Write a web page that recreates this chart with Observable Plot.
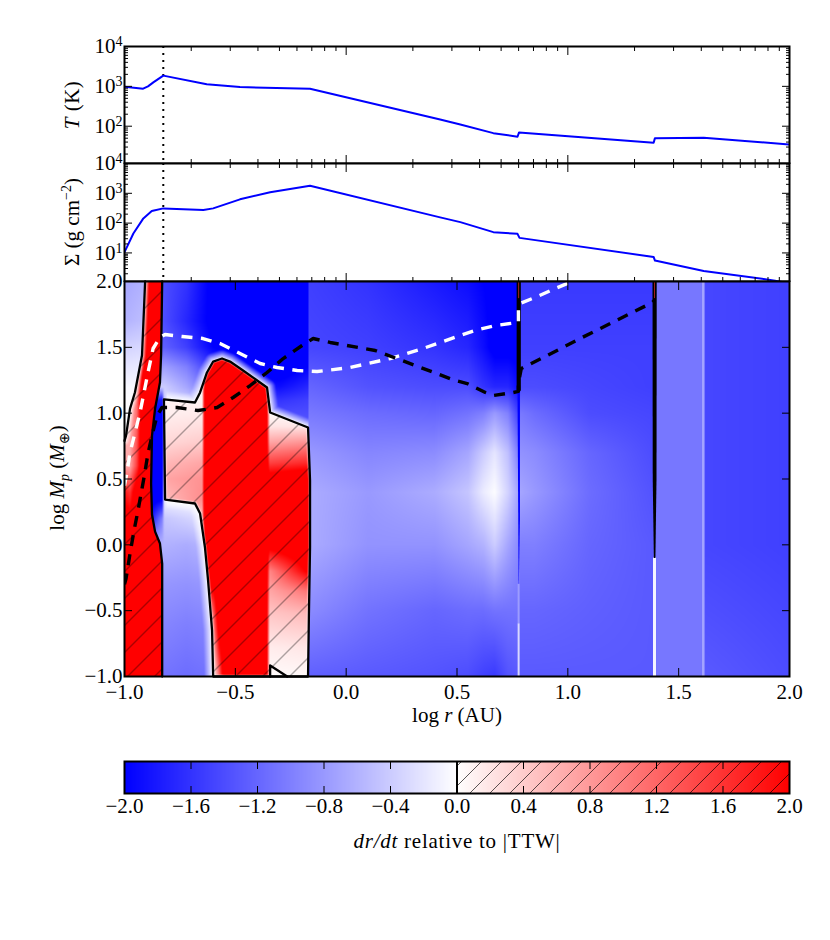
<!DOCTYPE html>
<html><head><meta charset="utf-8">
<style>
html,body{margin:0;padding:0;background:#fff}
#fig{position:relative;width:830px;height:940px;overflow:hidden;font-family:"Liberation Serif",serif;color:#000}
#fig svg{position:absolute;left:0;background:transparent;max-width:none}
#fig svg text{font-family:"Liberation Serif",serif !important;font-size:21px}
.lab{position:absolute;font-size:21px;white-space:nowrap;line-height:1;transform:translate(-50%,-50%)}
.rot{transform:translate(-50%,-50%) rotate(-90deg)}
.lab sub,.lab sup{font-size:14px;line-height:0}
</style>
<script src="https://cdn.jsdelivr.net/npm/d3@7"></script>
<script src="https://cdn.jsdelivr.net/npm/@observablehq/plot@0.6"></script>
</head><body><div id="fig"></div>
<script>
// ---- temperature and surface-density profiles
const tempLogR = [-1,-0.916,-0.894,-0.87,-0.825,-0.629,-0.479,-0.163,0.424,0.515,0.664,0.773,0.78,1.387,1.393,1.613,2];
const tempK    = [971,875,1000,1260,1858,1123,960,875,148,111,67,54.5,69.8,38.5,50.2,51.4,34.9];
const sigmaLogR = [-1,-0.96,-0.915,-0.877,-0.825,-0.644,-0.6,-0.479,-0.343,-0.163,0.424,0.515,0.664,0.773,0.782,1.387,1.393,1.613,1.928,2];
const sigmaCgs  = [10.6,45,144,254,312,274,312,628,1081,1803,156,108,49.8,43.7,32,7.33,5.55,2.48,1.2,0.95];
const dotLogR = -0.825;
// ---- dashed curves of the main panel
const whiteLogR = [-1,-0.989,-0.975,-0.93,-0.894,-0.871,-0.84,-0.817,-0.74,-0.646,-0.569,-0.479,-0.388,-0.312,-0.221,-0.131,0.018,0.199,0.334,0.515,0.582,0.673,0.777,0.777,0.785,0.862,0.953,1.02];
const whiteLogM = [0.45,0.549,0.701,1.005,1.309,1.491,1.575,1.597,1.582,1.567,1.529,1.453,1.377,1.347,1.324,1.316,1.347,1.415,1.484,1.59,1.628,1.666,1.689,1.795,1.833,1.886,1.954,2];
const blackLogR = [-1,-0.993,-0.975,-0.957,-0.939,-0.921,-0.912,-0.894,-0.876,-0.853,-0.831,-0.763,-0.668,-0.582,-0.51,-0.433,-0.357,-0.284,-0.199,-0.149,-0.072,0.131,0.312,0.492,0.546,0.628,0.664,0.754,0.777,0.777,0.79,0.907,1.065,1.237,1.381,1.39];
const blackLogM = [-0.3,-0.256,-0.066,0.109,0.261,0.428,0.511,0.694,0.83,0.982,1.043,1.043,1.02,1.043,1.119,1.21,1.309,1.415,1.514,1.567,1.537,1.476,1.362,1.248,1.225,1.157,1.134,1.157,1.165,1.225,1.339,1.438,1.575,1.719,1.84,1.856];
// ---- zero contours
const stripR = [-1,-0.993,-0.975,-0.953,-0.921,-0.912,-0.907,-0.83,-0.835,-0.84,-0.862,-0.876,-0.88,-0.876,-0.862,-0.84,-0.83,-0.83,-0.83,-1,-1];
const stripM = [0.79,0.83,1.035,1.157,1.44,1.795,2,2,1.44,1.233,1.035,0.83,0.466,0.23,0.1,0.01,-0.142,-0.52,-1,-1,0.79];
const loopR = [-0.822,-0.682,-0.659,-0.628,-0.6,-0.56,-0.524,-0.465,-0.357,-0.343,-0.172,-0.163,-0.163,-0.168,-0.172,-0.6,-0.605,-0.623,-0.637,-0.659,-0.682,-0.817,-0.822];
const loopM = [1.104,1.081,1.157,1.309,1.392,1.415,1.392,1.324,1.195,1.005,0.891,0.49,-0.02,-0.52,-1,-1,-0.65,-0.27,-0.02,0.238,0.314,0.344,1.104];
const cornerR = [-0.343,-0.343,-0.266];
const cornerM = [-1,-0.916,-1];
const slitAR = [0.769,0.788,0.788,0.769,0.769];
const slitAM = [2,2,1.17,1.17,2];
const slitBR = [1.382,1.401,1.4,1.395,1.388,1.383,1.382];
const slitBM = [2,2,0.5,-0.1,-0.1,0.5,2];
const blueSlitR = [0.773,0.784,0.784,0.779,0.778,0.773];
const blueSlitM = [1.2,1.2,0.2,-0.3,-0.3,1.2];
// ---- dr/dt inside the red strip
const rsX = [-1,-0.975,-0.945,-0.92,-0.83];
const rsY = [2,1.2,0.9,0.6,0.4,0.1,-1];
const rsV = [
 [2.5,2.5,2.5,2.5,2.5],[0.5,0.5,1,2.5,2.5],[0.6,0.6,1.2,2.5,2.5],[0.7,0.7,1.5,2.5,2.5],
 [1.8,1.6,2.5,2.5,2.5],[2.5,2.5,2.5,2.5,2.5],[2.5,2.5,2.5,2.5,2.5]];
// ---- dr/dt inside the big hatched loop
const loX = [-0.822,-0.65,-0.637,-0.6,-0.575,-0.55,-0.36,-0.345,-0.17];
const loY = [1.45,1.1,1,0.9,0.78,0.62,0.5,0.344,-0.02,-0.2,-0.35,-0.52,-0.78,-1];
const loV = [
 [0.1,0.1,2.5,2.5,2.5,2.5,2.5,0.05,0.05],
 [0.1,0.1,2.5,2.5,2.5,2.5,2.5,0.05,0.05],
 [0.12,0.15,2.5,2.5,2.5,2.5,2.5,0.05,0.05],
 [0.2,0.25,2.5,2.5,2.5,2.5,2.5,0.2,0.2],
 [0.3,0.4,2.5,2.5,2.5,2.5,2.5,0.7,0.85],
 [0.55,0.7,2.5,2.5,2.5,2.5,2.5,1.5,1.7],
 [0.7,0.85,2.5,2.5,2.5,2.5,2.5,2.3,2.5],
 [0.5,0.9,2.5,2.5,2.5,2.5,2.5,2.5,2.5],
 [0,0,2.5,2.5,2.5,2.5,2.5,2.1,2.5],
 [0,0,2.5,2.5,2.5,2.5,2.5,0.95,2.1],
 [0,0,2,2,2.5,2.5,2.5,0.7,1.1],
 [0,0,1.2,1.2,2.5,2.5,2.5,0.45,0.55],
 [0,0,0.5,0.5,1.8,2.5,2.5,0.15,0.2],
 [0,0,0,0,1,2.5,2.5,0.03,0.05]];
// ---- dr/dt left of log r = -0.17 outside the contours
const neX = [-1,-0.91,-0.89,-0.83,-0.82,-0.72,-0.6,-0.45,-0.3,-0.172];
const neY = [2,1.7,1.5,1.35,1.2,1.1,0.9,0.6,0.34,0.2,0,-0.3,-0.6,-1];
const neV = [
 [-0.7,-0.6,-0.6,-1.4,-1.4,-1.6,-2.1,-2.2,-2.2,-2.2],
 [-0.6,-0.5,-0.5,-1.4,-1.4,-1.7,-2.1,-2.2,-2.2,-2.2],
 [-0.35,-0.3,-0.3,-1.3,-1.25,-1.5,-2,-2.2,-2.2,-2.2],
 [-0.2,-0.15,-0.15,-0.8,-0.75,-1,-1.6,-2.1,-2.2,-2],
 [-0.05,-0.05,-0.05,-0.4,-0.4,-0.7,-1.2,-1.8,-1.9,-1.7],
 [-0.02,-0.02,-1.8,-1.8,-0.3,-0.4,-0.8,-1.3,-1.6,-1.5],
 [-0.02,-0.02,-2.2,-2.2,-0.5,-0.5,-0.8,-1,-1.2,-1.3],
 [0,0,-2.2,-2.2,-0.5,-0.5,-0.5,-0.5,-0.5,-0.5],
 [0,0,-2.2,-2,-0.1,-0.05,-0.05,-0.05,-0.05,-0.05],
 [0,0,-2,-1,-0.45,-0.35,-0.2,-0.2,-0.2,-0.2],
 [0,0,-0.6,-0.6,-0.6,-0.65,-0.55,-0.55,-0.55,-0.55],
 [0,0,-0.8,-0.8,-0.82,-0.85,-0.8,-0.8,-0.8,-0.8],
 [0,0,-0.95,-0.95,-0.95,-1,-0.95,-0.95,-0.95,-0.95],
 [0,0,-1.1,-1.1,-1.1,-1.15,-1.1,-1.1,-1.1,-1.1]];
// ---- dr/dt right of log r = -0.17
const riX = [-0.175,0.1,0.4,0.55,0.62,0.67,0.73,0.775,0.785,0.85,1.1,1.385,1.4,1.605,1.62,2];
const riY = [2,1.5,1.2,1,0.7,0.4,0,-0.5,-1];
const riV = [
 [-1.5,-1.6,-1.8,-1.9,-2,-2.1,-2.1,-2.1,-1.55,-1.55,-1.55,-1.55,-1.07,-1.07,-1.45,-1.5],
 [-1.45,-1.5,-1.6,-1.7,-1.9,-2.1,-2.1,-2.1,-1.5,-1.5,-1.5,-1.5,-1.07,-1.07,-1.45,-1.5],
 [-1.2,-1.35,-1.4,-1.4,-1.6,-1.7,-1.7,-1.9,-1.4,-1.4,-1.45,-1.5,-1.07,-1.07,-1.45,-1.5],
 [-1.05,-1.15,-1.2,-1.1,-1,-0.8,-1,-1.5,-1.05,-1.15,-1.4,-1.45,-1.07,-1.07,-1.45,-1.5],
 [-0.8,-0.95,-0.9,-0.7,-0.4,-0.2,-0.5,-1,-0.85,-0.9,-1.2,-1.4,-1.07,-1.07,-1.45,-1.5],
 [-0.65,-0.8,-0.65,-0.45,-0.15,-0.02,-0.35,-0.7,-0.7,-0.8,-1.15,-1.35,-1.07,-1.07,-1.45,-1.5],
 [-0.65,-0.85,-0.85,-0.7,-0.6,-0.4,-0.7,-0.9,-1,-1,-1.2,-1.3,-1.07,-1.07,-1.45,-1.5],
 [-0.9,-1.1,-1.2,-1.15,-1.15,-1.1,-1.1,-1.1,-1.2,-1.2,-1.25,-1.3,-1.07,-1.07,-1.38,-1.45],
 [-1.25,-1.3,-1.35,-1.4,-1.5,-1.55,-1.35,-1.3,-1.3,-1.3,-1.3,-1.3,-1.07,-1.07,-1.3,-1.4]];
// ---- axis ticks
const mainTicks = [-1,-0.5,0,0.5,1,1.5,2];
const rMajor = [-1,0,1,2];
const rMinor = [-0.699,-0.523,-0.398,-0.301,-0.222,-0.155,-0.097,-0.046,0.301,0.477,0.602,0.699,0.778,0.845,0.903,0.954,1.301,1.477,1.602,1.699,1.778,1.845,1.903,1.954];
const tempLabels = [100,1000,10000];
const sigmaLabels = [10,100,1000,10000];
const logMinor = [20,30,40,50,60,70,80,90,200,300,400,500,600,700,800,900,2000,3000,4000,5000,6000,7000,8000,9000];
const sigmaMinor = [2,3,4,5,6,7,8,9].concat(logMinor);
const barTicks = [-2,-1.6,-1.2,-0.8,-0.4,0,0.4,0.8,1.2,1.6,2];

const FONT = "Liberation Serif", FS = 21, L = 124, R = 41, MT = 18;
const W = 830 - L - R, H = 395;
const fig = document.getElementById("fig");
const minus = d => d.toFixed(1).replace("-", "−");
const pow10 = d => "10^" + Math.round(Math.log10(d));
const hatchDefs = (id, p) => `<pattern id="${id}" patternUnits="userSpaceOnUse" width="${p}" height="${p}"><path d="M-1 1L1 -1M0 ${p}L${p} 0M${p - 1} ${p + 1}L${p + 1} ${p - 1}" stroke="#000" stroke-width="0.65" fill="none"/></pattern>`;

function xy(X, Y) { return X.map((x, i) => ({x, y: Y[i]})); }
function grid(xs, ys, t, x, y) {
  let i = 0; while (i < xs.length - 2 && x > xs[i + 1]) i++;
  let j = 0; while (j < ys.length - 2 && y < ys[j + 1]) j++;
  const a = Math.max(0, Math.min(1, (x - xs[i]) / (xs[i + 1] - xs[i])));
  const b = Math.max(0, Math.min(1, (y - ys[j]) / (ys[j + 1] - ys[j])));
  const p = t[j][i] * (1 - a) + t[j][i + 1] * a;
  const q = t[j + 1][i] * (1 - a) + t[j + 1][i + 1] * a;
  return p * (1 - b) + q * b;
}
function inside(X, Y, x, y) {
  let c = false;
  for (let i = 0, j = X.length - 1; i < X.length; j = i++)
    if ((Y[i] > y) !== (Y[j] > y) && x < (X[j] - X[i]) * (y - Y[i]) / (Y[j] - Y[i]) + X[i]) c = !c;
  return c;
}
function edgeDist(X, Y, x, y) {        // distance to a contour, in screen pixels
  const kx = W / 3, ky = H / 3; let m = Infinity;
  for (let i = 1; i < X.length; i++) {
    const ax = X[i - 1] * kx, ay = Y[i - 1] * ky, bx = X[i] * kx - ax, by = Y[i] * ky - ay;
    const px = x * kx - ax, py = y * ky - ay;
    const s = Math.max(0, Math.min(1, (px * bx + py * by) / (bx * bx + by * by || 1)));
    const dx = px - s * bx, dy = py - s * by; m = Math.min(m, dx * dx + dy * dy);
  }
  return Math.sqrt(m);
}
const stripLeftR = stripR.slice(0, 7), stripLeftM = stripM.slice(0, 7);
function field(x, y) {
  if (inside(loopR, loopM, x, y)) {
    const v = grid(loX, loY, loV, x, y);
    return v * Math.min(1, edgeDist(loopR, loopM, x, y) / 2.5);
  }
  if (inside(stripR, stripM, x, y)) {
    const v = grid(rsX, rsY, rsV, x, y);
    return v * Math.min(1, edgeDist(stripLeftR, stripLeftM, x, y) / 5);
  }
  if (x > -0.172) return grid(riX, riY, riV, x, y);
  const v = grid(neX, neY, neV, x, y);
  if (x > -0.81) return v * Math.min(1, edgeDist(loopR, loopM, x, y) / 9);
  return v;
}

function inwardX(ticks, size, anchor) {
  return Plot.axisX(ticks, {anchor, tickSize: -size, tickFormat: () => "", strokeWidth: 1, stroke: "#000", label: null});
}
function inwardY(ticks, size, anchor) {
  return Plot.axisY(ticks, {anchor, tickSize: -size, tickFormat: () => "", strokeWidth: 1, stroke: "#000", label: null});
}
function place(plot, top, id, period) {
  plot.style.top = top + "px";
  if (id) {
    const d = document.createElementNS("http://www.w3.org/2000/svg", "defs");
    d.innerHTML = hatchDefs(id, period);
    plot.insertBefore(d, plot.firstChild);
  }
  // set the exponents of the power-of-ten tick labels as raised text
  plot.querySelectorAll("text").forEach(t => {
    const m = /^10\^(\d)$/.exec(t.textContent);
    if (!m) return;
    t.textContent = "10";
    const s = document.createElementNS("http://www.w3.org/2000/svg", "tspan");
    s.setAttribute("dy", "-7"); s.setAttribute("font-size", "14"); s.style.fontSize = "14px";
    s.textContent = m[1];
    t.appendChild(s);
  });
  fig.appendChild(plot);
}
const common = {width: 830, marginLeft: L, marginRight: R,
  style: {fontFamily: FONT, fontSize: FS + "px", background: "transparent"}};

function profile(X, V, domain, labels, minor, top, h) {
  const plot = Plot.plot({...common, height: h + MT + 1, marginTop: MT, marginBottom: 1,
    x: {domain: [-1, 2]}, y: {type: "log", domain},
    marks: [
      Plot.ruleX([dotLogR], {stroke: "#000", strokeWidth: 2, strokeDasharray: "2,5"}),
      Plot.line(xy(X, V), {x: "x", y: "y", stroke: "#00f", strokeWidth: 2, clip: true}),
      Plot.axisY(labels, {anchor: "left", tickSize: 0, tickPadding: 2, tickFormat: pow10, label: null}),
      inwardY(labels, 8, "left"), inwardY(labels, 8, "right"),
      inwardY(minor.filter(d => d > domain[0] && d < domain[1]), 4, "left"),
      inwardY(minor.filter(d => d > domain[0] && d < domain[1]), 4, "right"),
      inwardX(rMajor, 8, "bottom"), inwardX(rMajor, 8, "top"),
      inwardX(rMinor, 4, "bottom"), inwardX(rMinor, 4, "top"),
      Plot.frame({stroke: "#000", strokeWidth: 2})
    ]});
  place(plot, top);
}
profile(tempLogR, tempK, [11.6, 10000], tempLabels, logMinor, 46 - MT, 117);
profile(sigmaLogR, sigmaCgs, [1.1, 10000], sigmaLabels, sigmaMinor, 163 - MT, 118);

const colorOpt = {type: "linear", domain: [-2, 0, 2], range: ["#0000ff", "#ffffff", "#ff0000"], interpolate: "rgb", clamp: true};
const hatch = {fill: "url(#hatchMain)", stroke: "none"};
const contour = {x: "x", y: "y", stroke: "#000", strokeWidth: 2.3, strokeLinejoin: "round"};
const main = Plot.plot({...common, height: H + MT + 40, marginTop: MT, marginBottom: 40,
  x: {domain: [-1, 2]}, y: {domain: [-1, 2]}, color: colorOpt,
  marks: [
    Plot.raster({x1: -1, x2: 2, y1: -1, y2: 2, pixelSize: 1, fill: (x, y) => field(x, y)}),
    Plot.line(xy(blueSlitR, blueSlitM), {x: "x", y: "y", fill: "#0000ff", stroke: "none"}),
    Plot.ruleX([0.778], {y1: -0.3, y2: -0.6, stroke: "#9c9cff", strokeWidth: 2}),
    Plot.ruleX([0.778], {y1: -0.6, y2: -1, stroke: "#d8d8ff", strokeWidth: 2}),
    Plot.ruleX([1.391], {y1: -0.1, y2: -1, stroke: "#f4f4ff", strokeWidth: 3}),
    Plot.ruleX([1.611], {y1: 2, y2: -1, stroke: "#a4a4ff", strokeWidth: 2.5}),
    Plot.line(xy(stripR, stripM), {x: "x", y: "y", ...hatch}),
    Plot.line(xy(loopR, loopM), {x: "x", y: "y", ...hatch}),
    Plot.line(xy(stripR, stripM).slice(0, 7), contour),
    Plot.line(xy(stripR, stripM).slice(7, 19), contour),
    Plot.line(xy(loopR, loopM), contour),
    Plot.line(xy(cornerR, cornerM), contour),
    Plot.line(xy(slitAR, slitAM), {x: "x", y: "y", fill: "#000", stroke: "none"}),
    Plot.line(xy(slitBR, slitBM), {x: "x", y: "y", fill: "#000", stroke: "none"}),
    Plot.ruleX([0.778, 1.391], {y1: 2, y2: 1.87, stroke: "#a02020", strokeWidth: 1}),
    Plot.line(xy(whiteLogR, whiteLogM), {x: "x", y: "y", stroke: "#fff", strokeWidth: 3.4, strokeDasharray: "11,8.5", strokeLinecap: "butt", clip: true}),
    Plot.line(xy(blackLogR, blackLogM), {x: "x", y: "y", stroke: "#000", strokeWidth: 3.4, strokeDasharray: "11,8.5", strokeLinecap: "butt", clip: true}),
    Plot.axisX(mainTicks, {anchor: "bottom", tickSize: 0, tickPadding: 8, tickFormat: minus, label: null}),
    Plot.axisY(mainTicks, {anchor: "left", tickSize: 0, tickPadding: 2, tickFormat: minus, label: null}),
    inwardX(mainTicks, 8, "bottom"), inwardX(mainTicks, 8, "top"),
    inwardY(mainTicks, 8, "left"), inwardY(mainTicks, 8, "right"),
    Plot.frame({stroke: "#000", strokeWidth: 2})
  ]});
place(main, 281 - MT, "hatchMain", 27);

const bar = Plot.plot({...common, height: 32 + MT + 40, marginTop: MT, marginBottom: 40,
  x: {domain: [-2, 2]}, y: {domain: [0, 1], axis: null}, color: colorOpt,
  marks: [
    Plot.raster({x1: -2, x2: 2, y1: 0, y2: 1, pixelSize: 1, fill: (x, y) => x}),
    Plot.rect([{a: 0, b: 2}], {x1: "a", x2: "b", y1: 0, y2: 1, fill: "url(#hatchBar)", stroke: "none"}),
    Plot.ruleX([0], {stroke: "#000", strokeWidth: 2}),
    Plot.axisX(barTicks, {anchor: "bottom", tickSize: 0, tickPadding: 5, tickFormat: minus, label: null}),
    inwardX(barTicks, 7, "bottom"), inwardX(barTicks, 7, "top"),
    Plot.frame({stroke: "#000", strokeWidth: 2})
  ]});
place(bar, 761 - MT, "hatchBar", 20);

function label(html, x, y, rot, spacing) {
  const s = document.createElement("div");
  s.className = "lab" + (rot ? " rot" : "");
  s.style.left = x + "px"; s.style.top = y + "px"; s.innerHTML = html;
  if (spacing) s.style.letterSpacing = spacing + "px";
  fig.appendChild(s);
}
label("<i>T</i> (K)", 72, 105, true, 0.5);
label("Σ (g cm<sup>−2</sup>)", 72, 222, true);
label("log <i>M<sub>p</sub></i> (<i>M</i><sub>⊕</sub>)", 57, 478, true);
label("log <i>r</i> (AU)", 457, 715, false);
label("<i>dr/dt</i> relative to |TTW|", 457, 841, false, 0.75);
</script></body></html>
